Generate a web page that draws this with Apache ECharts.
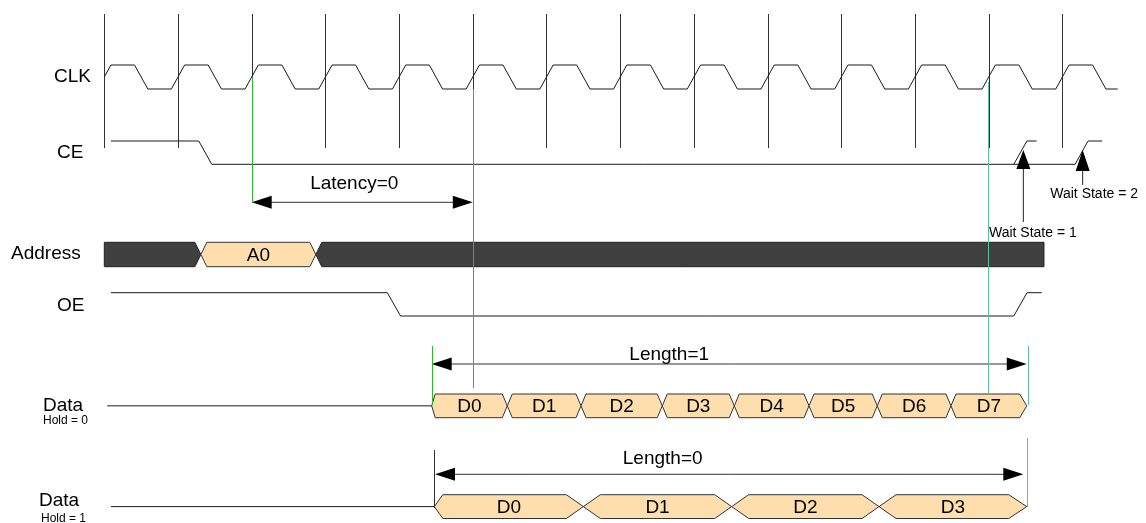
<!DOCTYPE html>
<html>
<head>
<meta charset="utf-8">
<script src="https://cdn.jsdelivr.net/npm/echarts@6/dist/echarts.min.js"></script>
<style>html,body{margin:0;padding:0;background:#fff}#c{width:1146px;height:523px}</style>
</head>
<body>
<div id="c"></div>
<script>
// ---------------- DATA (time in ns, clock period = 10 ns) ----------------
const clkRise = [0, 10, 20, 30, 40, 50, 60, 70, 80, 90, 100, 110, 120, 130];
const clkFall = [5, 15, 25, 35, 45, 55, 65, 75, 85, 95, 105, 115, 125, 135];
const clkEnd = 137.5;

const ceStart = 0.9;
const ceEdges = [[13.7, 0], [132.6, 1]];
const ceEnd = 135.4;
const ceWait1Start = 123.4;
const ceWait1Edges = [[124.3, 1]];
const ceWait1End = 126.5;

const oeStart = 0.9;
const oeEdges = [[39.3, 0], [124.3, 1]];
const oeEnd = 127.2;

const addrTimes = [0, 13.1, 28.7, 127.5];
const addrLabels = ['', 'A0', ''];

const d0IdleStart = 0.4;
const d0Times = [44.42, 54.68, 64.68, 75.71, 85.48, 95.62, 104.88, 114.88, 125.16];
const d0Labels = ['D0', 'D1', 'D2', 'D3', 'D4', 'D5', 'D6', 'D7'];

const d1IdleStart = 0.9;
const d1Times = [44.78, 65.0, 85.13, 105.12, 125.16];
const d1Labels = ['D0', 'D1', 'D2', 'D3'];

const latency = [20, 50];
const burstEnd = 119.9;
const length1 = [44.42, 125.16];
const length0 = [44.87, 124.7];
const lenMarks1 = [44.42, 125.37];
const lenMarks0 = [44.73, 125.23];
const waitStates = [124.7, 132.75];
const waitLabels = ['Wait State = 1', 'Wait State = 2'];

const signalNames = ['CLK', 'CE', 'Address', 'OE', 'Data', 'Data'];
const holdLabels = ['Hold = 0', 'Hold = 1'];
const arrowLabels = ['Latency=0', 'Length=1', 'Length=0'];

// ---------------- LAYOUT ----------------
const FONT = '"Liberation Sans", Arial, Helvetica, sans-serif';
const INK = '#1a1a1a';
const GREEN = '#2eb82e';
const MINT = '#5fbf95';
const rows = {
  clk: {hi: 65, lo: 89},
  ce: {hi: 141, lo: 164.3},
  addr: {top: 242.3, bot: 266.7},
  oe: {hi: 292.7, lo: 316},
  d0: {top: 394, bot: 417.7},
  d1: {top: 494.7, bot: 518.5}
};

function levelY(r, lv) { return r.lo + (r.hi - r.lo) * lv; }
function wave(start, startLevel, edges, end, hw, row) {
  const pts = [[start, levelY(row, startLevel)]];
  let lv = startLevel;
  edges.forEach(function (e) {
    const c = e[0], nl = e[1];
    if (c - hw > start) pts.push([c - hw, levelY(row, lv)]);
    pts.push([c + hw, levelY(row, nl)]);
    lv = nl;
  });
  pts.push([end, levelY(row, lv)]);
  return pts;
}
function lineSeries(pts) {
  return {
    type: 'line', data: pts, symbol: 'none', showSymbol: false, silent: true,
    animation: false, lineStyle: {color: INK, width: 1}, z: 3
  };
}

const clkEdges = [];
clkRise.forEach(function (r, i) {
  clkEdges.push([r, 1]);
  if (clkFall[i] !== undefined) clkEdges.push([clkFall[i], 0]);
});

function busSeries(times, labels, row, hwFirst, hw, hwLast, flatEnds) {
  const segs = labels.map(function (l, i) { return [times[i], times[i + 1]]; });
  return {
    type: 'custom', silent: true, animation: false, z: 4,
    data: segs,
    renderItem: function (params, api) {
      const i = params.dataIndex;
      const n = labels.length;
      const xa = api.coord([api.value(0), 0])[0];
      const xb = api.coord([api.value(1), 0])[0];
      const yt = api.coord([0, row.top])[1];
      const yb = api.coord([0, row.bot])[1];
      const ym = (yt + yb) / 2;
      const hl = i === 0 ? (flatEnds ? 0 : hwFirst) : hw;
      const hr = i === n - 1 ? (flatEnds ? 0 : hwLast) : hw;
      const pts = [];
      if (hl === 0) { pts.push([xa, yb], [xa, yt]); } else { pts.push([xa, ym], [xa + hl, yt]); }
      if (hr === 0) { pts.push([xb, yt], [xb, yb]); } else { pts.push([xb - hr, yt], [xb, ym], [xb - hr, yb]); }
      if (hl !== 0) pts.push([xa + hl, yb]);
      const filled = labels[i] !== '';
      const children = [{
        type: 'polygon', shape: {points: pts},
        style: {fill: filled ? '#ffdead' : '#404040', stroke: filled ? '#333' : '#222', lineWidth: 1}
      }];
      if (filled) {
        children.push({
          type: 'text',
          style: {text: labels[i], x: (xa + xb) / 2, y: ym + 1, font: '19px ' + FONT, fill: '#000',
            textAlign: 'center', textVerticalAlign: 'middle', align: 'center', verticalAlign: 'middle'}
        });
      }
      return {type: 'group', children: children};
    }
  };
}

function vlineSeries(times, y1, y2, color, z) {
  return {
    type: 'custom', silent: true, animation: false, z: z || 2,
    data: times.map(function (t) { return [t]; }),
    renderItem: function (params, api) {
      const x = Math.round(api.coord([api.value(0), 0])[0]) + 0.5;
      return {type: 'line', shape: {x1: x, y1: api.coord([0, y1])[1], x2: x, y2: api.coord([0, y2])[1]},
        style: {stroke: color, lineWidth: 1}};
    }
  };
}

function head(xTip, y, dir) { // horizontal arrow head
  const L = 20, H = 6.5;
  return {type: 'polygon', shape: {points: [[xTip, y], [xTip - dir * L, y - H], [xTip - dir * L, y + H]]},
    style: {fill: '#000'}};
}

const dimArrows = [
  {span: latency, y: 202.3, label: arrowLabels[0], dx: -8, dy: -18.5},
  {span: length1, y: 364, label: arrowLabels[1], dx: -60, dy: -9.5},
  {span: length0, y: 474.3, label: arrowLabels[2], dx: -66.5, dy: -16}
];
const dimSeries = {
  type: 'custom', silent: true, animation: false, z: 6,
  data: dimArrows.map(function (a) { return [a.span[0], a.span[1]]; }),
  renderItem: function (params, api) {
    const a = dimArrows[params.dataIndex];
    const x1 = api.coord([api.value(0), 0])[0];
    const x2 = api.coord([api.value(1), 0])[0];
    const y = api.coord([0, a.y])[1];
    return {type: 'group', children: [
      {type: 'line', shape: {x1: x1 + 10, y1: y, x2: x2 - 10, y2: y}, style: {stroke: '#333', lineWidth: 1}},
      head(x1, y, -1), head(x2, y, 1),
      {type: 'text', style: {text: a.label, x: (x1 + x2) / 2 + a.dx, y: y + a.dy, font: '19px ' + FONT, fill: '#000',
        textAlign: 'center', textVerticalAlign: 'middle', align: 'center', verticalAlign: 'middle'}}
    ]};
  }
};

const waitLayout = [
  {headBot: 169, shaftEnd: 222, tx: 9.5, ty: 233},
  {headBot: 171, shaftEnd: 185, tx: 11.5, ty: 194}
];
const waitSeries = {
  type: 'custom', silent: true, animation: false, z: 6,
  data: waitStates.map(function (t) { return [t]; }),
  renderItem: function (params, api) {
    const L = waitLayout[params.dataIndex];
    const x = api.coord([api.value(0), 0])[0];
    const yTip = api.coord([0, 150])[1];
    return {type: 'group', children: [
      {type: 'polygon', shape: {points: [[x, yTip], [x - 7, L.headBot], [x + 7, L.headBot]]}, style: {fill: '#000'}},
      {type: 'line', shape: {x1: x, y1: L.headBot, x2: x, y2: L.shaftEnd}, style: {stroke: '#222', lineWidth: 1}},
      {type: 'text', style: {text: waitLabels[params.dataIndex], x: x + L.tx, y: L.ty, font: '14px ' + FONT, fill: '#000',
        textAlign: 'center', textVerticalAlign: 'middle', align: 'center', verticalAlign: 'middle'}}
    ]};
  }
};

const nameLayout = [
  {x: 54, y: 77}, {x: 57, y: 152.5}, {x: 11, y: 254}, {x: 57, y: 305.5}, {x: 43, y: 406}, {x: 39, y: 501}
];
const holdLayout = [{x: 43, y: 420.5}, {x: 41, y: 518.5}];
const graphics = [];
signalNames.forEach(function (n, i) {
  graphics.push({type: 'text', x: nameLayout[i].x, y: nameLayout[i].y, silent: true,
    style: {text: n, font: '19px ' + FONT, fill: '#000', textAlign: 'left', textVerticalAlign: 'middle', align: 'left', verticalAlign: 'middle'}});
});
holdLabels.forEach(function (n, i) {
  graphics.push({type: 'text', x: holdLayout[i].x, y: holdLayout[i].y, silent: true,
    style: {text: n, font: '12px ' + FONT, fill: '#000', textAlign: 'left', textVerticalAlign: 'middle', align: 'left', verticalAlign: 'middle'}});
});

const chart = echarts.init(document.getElementById('c'));
chart.setOption({
  backgroundColor: '#fff',
  animation: false,
  grid: {left: 0, right: 0, top: 0, bottom: 0},
  xAxis: {type: 'value', min: -14.152, max: 141.344, show: false},
  yAxis: {type: 'value', min: 0, max: 523, inverse: true, show: false},
  graphic: graphics,
  series: [
    vlineSeries(clkRise, 14, 148, '#333', 2),
    lineSeries(wave(0, 0.5, clkEdges, clkEnd, 0.9, rows.clk)),
    lineSeries(wave(ceStart, 1, ceEdges, ceEnd, 0.88, rows.ce)),
    lineSeries(wave(ceWait1Start, 0, ceWait1Edges, ceWait1End, 0.88, rows.ce)),
    busSeries(addrTimes, addrLabels, rows.addr, 0, 6, 0, true),
    lineSeries(wave(oeStart, 1, oeEdges, oeEnd, 0.9, rows.oe)),
    lineSeries([[d0IdleStart, (rows.d0.top + rows.d0.bot) / 2], [d0Times[0], (rows.d0.top + rows.d0.bot) / 2]]),
    busSeries(d0Times, d0Labels, rows.d0, 3.5, 5, 7, false),
    lineSeries([[d1IdleStart, (rows.d1.top + rows.d1.bot) / 2], [d1Times[0], (rows.d1.top + rows.d1.bot) / 2]]),
    busSeries(d1Times, d1Labels, rows.d1, 8.5, 17, 18, false),
    vlineSeries([latency[0]], 77, 202.3, GREEN, 8),
    vlineSeries([latency[1]], 89, 388, GREEN, 8),
    vlineSeries([burstEnd], 82, 393, MINT, 8),
    vlineSeries([lenMarks1[0]], 346, 405, GREEN, 8),
    vlineSeries([lenMarks1[1]], 346, 405, MINT, 8),
    vlineSeries([lenMarks0[0]], 450, 508, '#333', 8),
    vlineSeries([lenMarks0[1]], 438, 507, MINT, 8),
    dimSeries,
    waitSeries
  ]
});
</script>
</body>
</html>
